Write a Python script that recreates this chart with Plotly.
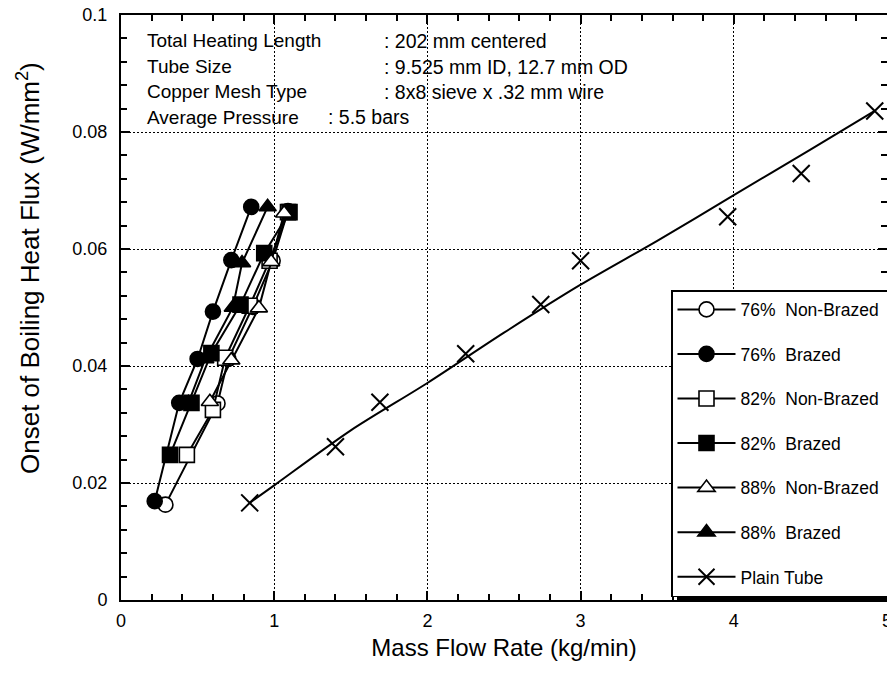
import plotly.graph_objects as go

# ---------------- data ----------------
nb76_x = [0.29, 0.63, 0.70, 0.86, 0.99, 1.09]
nb76_y = [0.0163, 0.0336, 0.0412, 0.0501, 0.0580, 0.0665]

b76_x = [0.22, 0.38, 0.50, 0.60, 0.72, 0.85]
b76_y = [0.0169, 0.0337, 0.0412, 0.0493, 0.0581, 0.0672]

nb82_x = [0.43, 0.60, 0.68, 0.84, 0.97, 1.09]
nb82_y = [0.0248, 0.0325, 0.0414, 0.0503, 0.0580, 0.0663]

b82_x = [0.32, 0.46, 0.59, 0.78, 0.935, 1.10]
b82_y = [0.0248, 0.0337, 0.0422, 0.0505, 0.0593, 0.0663]

nb88_x = [0.58, 0.72, 0.90, 0.98, 1.065]
nb88_y = [0.0339, 0.0410, 0.0499, 0.0578, 0.0661]

b88_x = [0.44, 0.55, 0.73, 0.79, 0.957]
b88_y = [0.0337, 0.0412, 0.0500, 0.0576, 0.0672]

plain_x = [0.84, 1.40, 1.69, 2.25, 2.74, 3.00, 3.96, 4.44, 4.92]
plain_y = [0.0166, 0.0262, 0.0338, 0.0421, 0.0505, 0.0580, 0.0655, 0.0729, 0.0836]

# curve drawn through the plain-tube data
plain_fit_x = [0.84, 1.0, 1.5, 2.0, 2.5, 3.0, 3.5, 4.0, 4.5, 4.92]
plain_fit_y = [0.0166, 0.0196, 0.0290, 0.0371, 0.0457, 0.0539, 0.0614, 0.0692, 0.0770, 0.0836]

series_names = ["76%\u00a0 Non-Brazed\u00a0\u00a0", "76%\u00a0 Brazed", "82%\u00a0 Non-Brazed",
                "82%\u00a0 Brazed", "88%\u00a0 Non-Brazed", "88%\u00a0 Brazed"]
plain_name = "Plain Tube"

info_labels = ["Total Heating Length", "Tube Size", "Copper Mesh Type", "Average Pressure"]
info_values = [": 202 mm centered", ": 9.525 mm ID, 12.7 mm OD",
               ": 8x8 sieve x .32 mm wire", ": 5.5 bars"]

x_ticks = [0, 1, 2, 3, 4, 5]
y_ticks = [0, 0.02, 0.04, 0.06, 0.08, 0.1]
y_ticktext = ["0", "0.02", "0.04", "0.06", "0.08", "0.1"]

x_title = "Mass Flow Rate (kg/min)"
y_title = "Onset of Boiling Heat Flux (W/mm<sup>2</sup>)"

# ---------------- figure ----------------
FONT = "Liberation Sans"
fig = go.Figure()

series = [
    (nb76_x, nb76_y, "circle", "white"),
    (b76_x, b76_y, "circle", "black"),
    (nb82_x, nb82_y, "square", "white"),
    (b82_x, b82_y, "square", "black"),
    (nb88_x, nb88_y, "triangle-up", "white"),
    (b88_x, b88_y, "triangle-up", "black"),
]
for i, (xs, ys, sym, fill) in enumerate(series):
    fig.add_trace(go.Scatter(
        x=xs, y=ys, mode="lines+markers", name=series_names[i],
        legendgroup=f"g{i}", legendrank=i + 1,
        line=dict(color="black", width=2),
        marker=dict(symbol=sym, size=15, color=fill,
                    line=dict(color="black", width=1.6)),
    ))

fig.add_trace(go.Scatter(
    x=plain_fit_x, y=plain_fit_y, mode="lines", showlegend=False,
    line=dict(color="black", width=2, shape="spline", smoothing=0.8),
))
fig.add_trace(go.Scatter(
    x=plain_x, y=plain_y, mode="markers", showlegend=False,
    marker=dict(symbol="x-thin", size=17, color="black",
                line=dict(color="black", width=2)),
))
# legend entry for the plain tube (line + marker)
fig.add_trace(go.Scatter(
    x=[None], y=[None], mode="lines+markers", name=plain_name,
    legendgroup="g7", legendrank=7,
    line=dict(color="black", width=2),
    marker=dict(symbol="x-thin", size=17, color="black",
                line=dict(color="black", width=2)),
))

L, R, T, B = 121, 0, 15, 79
W, H = 887, 679
pw, ph = W - L - R, H - T - B

def px_to_paper_x(px):
    return (px - L) / pw

def px_to_paper_y(py):
    return (H - B - py) / ph

annotations = []
row_y = [41, 66.5, 92, 117]
for i, (lab, val) in enumerate(zip(info_labels, info_values)):
    annotations.append(dict(
        x=px_to_paper_x(145), y=px_to_paper_y(row_y[i]), xref="paper", yref="paper",
        text=lab, showarrow=False, xanchor="left", yanchor="middle",
        font=dict(family=FONT, size=19, color="black")))
    vx = 382 if i < 3 else 326
    annotations.append(dict(
        x=px_to_paper_x(vx), y=px_to_paper_y(row_y[i]), xref="paper", yref="paper",
        text=val, showarrow=False, xanchor="left", yanchor="middle",
        font=dict(family=FONT, size=19.5, color="black")))

# y-axis title (sits a little above the axis centre in the reference)
annotations.append(dict(
    x=px_to_paper_x(28), y=px_to_paper_y(268), xref="paper", yref="paper",
    text=y_title, textangle=-90, showarrow=False, xanchor="center", yanchor="middle",
    font=dict(family=FONT, size=26, color="black")))

axis_common = dict(
    showline=True, linecolor="black", linewidth=2,
    ticks="inside", ticklen=9, tickwidth=1.5, tickcolor="black",
    mirror="ticks",
    showgrid=True, gridcolor="black", gridwidth=1.3, griddash="2px,2px",
    zeroline=False,
    tickfont=dict(family=FONT, size=18, color="black"),
    ticklabeloverflow="allow",
    automargin=False,
)

fig.update_layout(
    width=W, height=H,
    margin=dict(l=L, r=R, t=T, b=B, pad=0, autoexpand=False),
    paper_bgcolor="white", plot_bgcolor="white",
    font=dict(family=FONT, color="black"),
    xaxis=dict(
        range=[0, 5], tickvals=x_ticks, ticktext=[str(v) for v in x_ticks],
        minor=dict(dtick=0.2, tick0=0, ticks="inside", ticklen=6, tickwidth=1.5,
                   tickcolor="black", showgrid=False),
        title=dict(text=x_title, font=dict(family=FONT, size=24), standoff=10),
        ticklabelstandoff=3,
        **axis_common,
    ),
    yaxis=dict(
        range=[0, 0.1], tickvals=y_ticks, ticktext=y_ticktext,
        minor=dict(dtick=0.004, tick0=0, ticks="inside", ticklen=6, tickwidth=1.5,
                   tickcolor="black", showgrid=False),
        ticklabelstandoff=8,
        **axis_common,
    ),
    legend=dict(
        x=px_to_paper_x(671), y=px_to_paper_y(290), xanchor="left", yanchor="top",
        bgcolor="white", bordercolor="black", borderwidth=1.5,
        font=dict(family=FONT, size=17.5, color="black"),
        traceorder="grouped", tracegroupgap=18.8, itemwidth=58,
    ),
    shapes=[dict(
        type="rect", xref="paper", yref="paper",
        x0=px_to_paper_x(677), x1=1.05, y0=px_to_paper_y(600), y1=px_to_paper_y(297),
        fillcolor="black", line=dict(width=0), layer="above",
    )],
    annotations=annotations,
    showlegend=True,
)

fig.write_html("out.html")
